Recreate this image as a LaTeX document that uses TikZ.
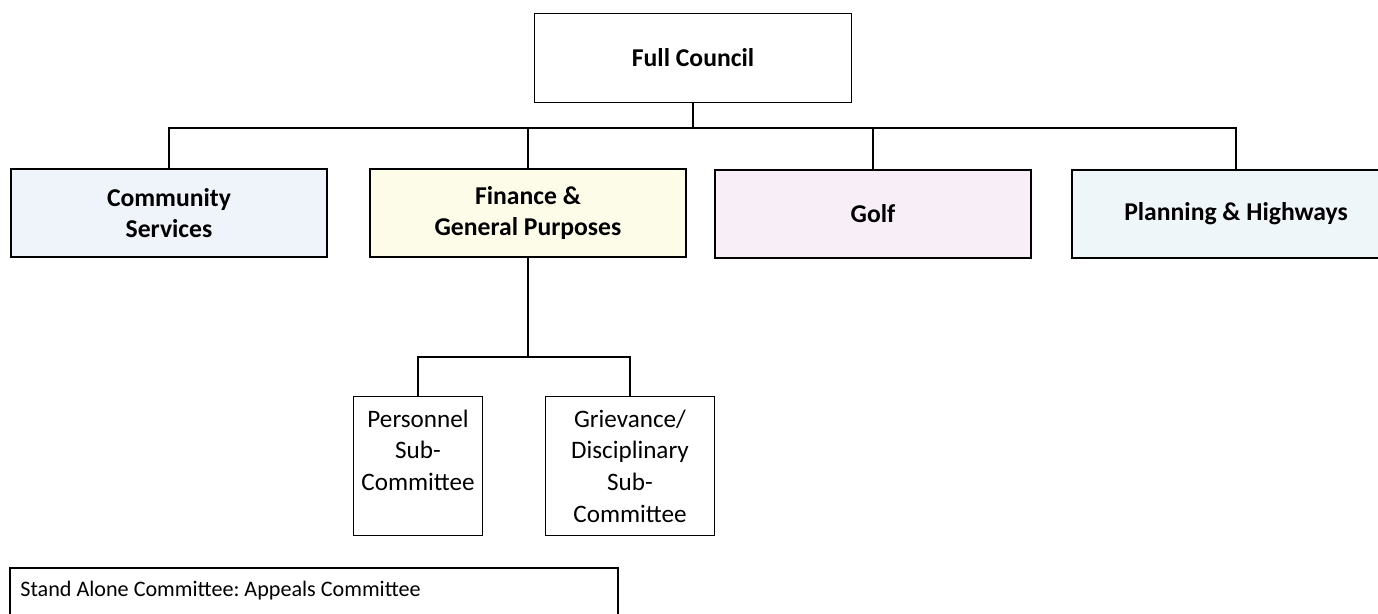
\documentclass[tikz,border=0pt]{standalone}
\usepackage{fontspec}
\setmainfont{Carlito}
\definecolor{csblue}{HTML}{EEF4FA}
\definecolor{finyellow}{HTML}{FCFCE8}
\definecolor{golfpink}{HTML}{F8EEF8}
\definecolor{phblue}{HTML}{EEF6FA}
\frenchspacing
\begin{document}
\begin{tikzpicture}[x=0.02cm,y=-0.02cm,line width=1pt,
				every node/.style={draw,align=center,font=\fontsize{14.3}{18}\selectfont},
				main/.style={minimum width=6.32cm,minimum height=1.76cm,font=\fontsize{14.6}{17.6}\selectfont\bfseries},
				sub/.style={minimum height=2.78cm}]
\useasboundingbox (0,0) rectangle (1378,614);
\node[main,minimum width=6.34cm,minimum height=1.78cm] (council) at (693,58) {Full Council};
\node[main,fill=csblue] (cs) at (169,213) {Community\\Services};
\node[main,fill=finyellow] (fin) at (528,213) {Finance \&\\General Purposes};
\node[main,fill=golfpink] (golf) at (873,214) {Golf};
\node[main,fill=phblue,minimum width=6.56cm] (ph) at (1236,214) {Planning \& Highways};
\node[sub,minimum width=2.58cm] (pers) at (418,466) {Personnel\\Sub-\\Committee\\~};
\node[sub,minimum width=3.38cm] (grv) at (630,466) {Grievance/\\Disciplinary\\Sub-\\Committee};
\node[anchor=north west,align=flush left,text width=11.74cm,minimum height=1.6cm,
	text depth=0.75cm,inner sep=6pt,font=\fontsize{12.6}{15}\selectfont] (appeals) at (9,567) {Stand Alone Committee: Appeals Committee};
\coordinate (top) at (686,128);
\coordinate (low) at (534,357);
\draw (council.south) -- (council.south |- top);
\draw (cs.north) |- (top) -| (ph.north);
\draw (fin.north) -- (fin.north |- top);
\draw (golf.north) -- (golf.north |- top);
\draw (fin.south) -- (fin.south |- low);
\draw (pers.north) |- (low) -| (grv.north);
\end{tikzpicture}
\end{document}
